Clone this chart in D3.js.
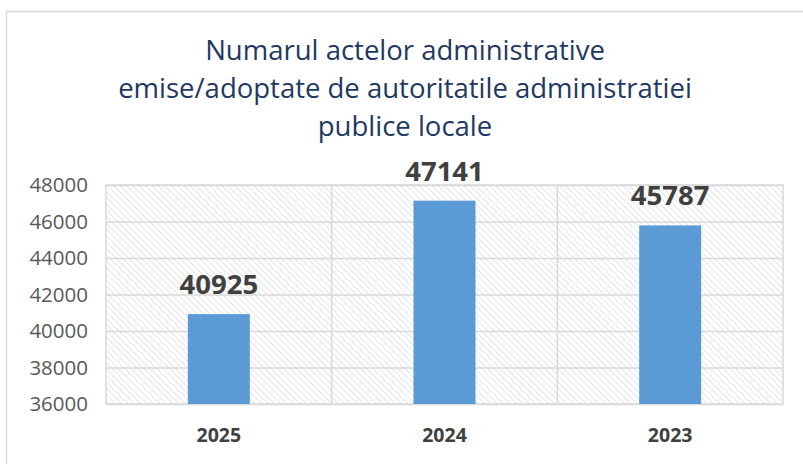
<!DOCTYPE html>
<html>
<head>
<meta charset="utf-8">
<script src="https://cdn.jsdelivr.net/npm/d3@7"></script>
<style>
  body { margin: 0; background: #fff; }
  svg { display: block; }
</style>
</head>
<body>
<div id="chart"></div>
<script>
// data
const years = ["2025", "2024", "2023"];
const values = [40925, 47141, 45787];
const yTicks = [36000, 38000, 40000, 42000, 44000, 46000, 48000];
const titleLines = [
  "Numarul actelor administrative",
  "emise/adoptate de autoritatile administratiei",
  "publice locale"
];

const W = 803, H = 464;
const margin = { top: 185, right: 20, bottom: 60, left: 106 };
const width = 783 - margin.left;
const height = 404 - margin.top;

const svg = d3.select("#chart").append("svg")
  .attr("width", W).attr("height", H);

// hatch pattern for plot area
const pat = svg.append("defs").append("pattern")
  .attr("id", "hatch")
  .attr("patternUnits", "userSpaceOnUse")
  .attr("width", 4.5).attr("height", 4.5)
  .attr("patternTransform", "rotate(-45)");
pat.append("line")
  .attr("x1", 0).attr("y1", 0).attr("x2", 0).attr("y2", 4.5)
  .attr("stroke", "#d3d3d3").attr("stroke-width", 1.2);

// outer frame
svg.append("rect")
  .attr("x", 6.5).attr("y", 11.5)
  .attr("width", W).attr("height", H)
  .attr("fill", "none").attr("stroke", "#d9d9d9").attr("stroke-width", 1.5);

// title
svg.append("text")
  .attr("text-anchor", "middle")
  .attr("font-family", "'Open Sans', sans-serif")
  .attr("font-size", 27.5)
  .attr("fill", "#1f3864")
  .selectAll("tspan").data(titleLines).join("tspan")
  .attr("x", 405)
  .attr("y", (d, i) => 60 + i * 38)
  .text(d => d);

const g = svg.append("g")
  .attr("transform", "translate(" + margin.left + "," + margin.top + ")");

const x = d3.scaleBand().domain(years).range([0, width]).paddingInner(0).paddingOuter(0);
const y = d3.scaleLinear().domain([36000, 48000]).range([height, 0]);

// plot background
g.append("rect")
  .attr("width", width).attr("height", height)
  .attr("fill", "url(#hatch)");

// horizontal grid
g.append("g")
  .call(d3.axisLeft(y).tickValues(yTicks).tickSize(-width).tickFormat(""))
  .call(s => s.select(".domain").remove())
  .selectAll("line").attr("stroke", "#d9d9d9").attr("stroke-width", 1.5);

// vertical grid (band boundaries)
g.append("g").selectAll("line")
  .data(years.slice(1))
  .join("line")
  .attr("x1", d => x(d)).attr("x2", d => x(d))
  .attr("y1", 0).attr("y2", height)
  .attr("stroke", "#d9d9d9").attr("stroke-width", 1.5);

g.append("rect")
  .attr("width", width).attr("height", height)
  .attr("fill", "none").attr("stroke", "#d9d9d9").attr("stroke-width", 1.5);

// y axis labels
const yAxis = g.append("g")
  .call(d3.axisLeft(y).tickValues(yTicks).tickSize(0).tickPadding(18).tickFormat(d3.format("d")));
yAxis.select(".domain").remove();
yAxis.selectAll("text")
  .attr("font-family", "'Open Sans', sans-serif")
  .attr("font-size", 20.5)
  .attr("fill", "#595959");

// x axis labels
const xAxis = g.append("g")
  .attr("transform", "translate(0," + height + ")")
  .call(d3.axisBottom(x).tickSize(0).tickPadding(24));
xAxis.select(".domain").remove();
xAxis.selectAll("text")
  .attr("font-family", "'Open Sans', sans-serif")
  .attr("font-weight", "bold")
  .attr("font-size", 19.5)
  .attr("fill", "#404040");

// bars
const barW = 62;
const rows = years.map((d, i) => ({ year: d, value: values[i] }));
g.selectAll(".bar").data(rows).join("rect")
  .attr("class", "bar")
  .attr("x", d => x(d.year) + x.bandwidth() / 2 - barW / 2)
  .attr("y", d => y(d.value))
  .attr("width", barW)
  .attr("height", d => height - y(d.value))
  .attr("fill", "#5b9bd5");

// value labels
g.selectAll(".lbl").data(rows).join("text")
  .attr("class", "lbl")
  .attr("x", d => x(d.year) + x.bandwidth() / 2)
  .attr("y", d => y(d.value) - 20)
  .attr("text-anchor", "middle")
  .attr("font-family", "'Open Sans', sans-serif")
  .attr("font-weight", "bold")
  .attr("font-size", 27.5)
  .attr("fill", "#404040")
  .text(d => d.value);
</script>
</body>
</html>
